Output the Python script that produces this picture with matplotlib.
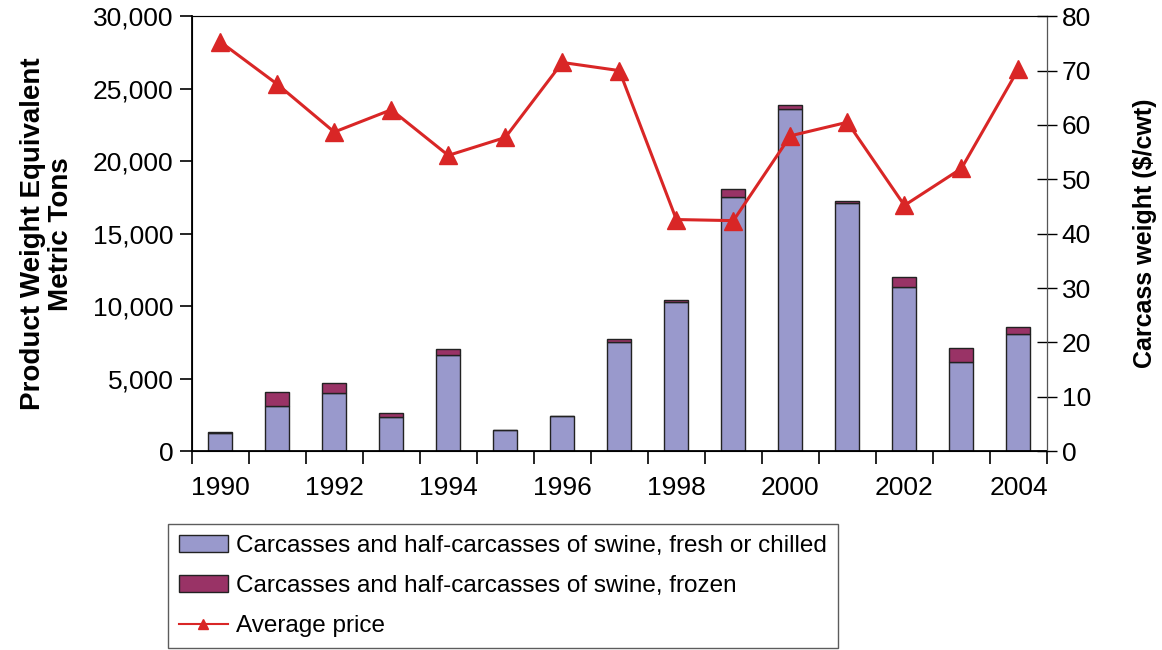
import matplotlib.pyplot as plt
import numpy as np
from matplotlib.lines import Line2D
from matplotlib.patches import Patch

plt.rcParams["font.family"] = ["Liberation Sans", "DejaVu Sans"]

# data
years = [1990, 1991, 1992, 1993, 1994, 1995, 1996, 1997, 1998, 1999,
         2000, 2001, 2002, 2003, 2004]
fresh = [1220, 3080, 4030, 2370, 6620, 1450, 2390, 7540, 10300, 17550,
         23600, 17090, 11290, 6160, 8050]
frozen = [120, 970, 650, 280, 420, 0, 0, 160, 150, 500,
          250, 140, 700, 970, 530]
price = [75.3, 67.5, 58.7, 62.8, 54.4, 57.7, 71.5, 70.0, 42.6, 42.4,
         58.0, 60.5, 45.2, 52.0, 70.3]
year_labels = ["1990", "1992", "1994", "1996", "1998", "2000", "2002", "2004"]

c_fresh = "#9999CC"
c_frozen = "#993366"
c_line = "#D92626"

fig = plt.figure(figsize=(11.62, 6.5), dpi=100)
ax = fig.add_axes([0.165, 0.306, 0.736, 0.669])
x = np.arange(len(years))

ax.bar(x, fresh, width=0.42, color=c_fresh, edgecolor="#222222", linewidth=1.0)
ax.bar(x, frozen, width=0.42, bottom=fresh, color=c_frozen,
       edgecolor="#222222", linewidth=1.0)

ax.set_xlim(-0.5, len(years) - 0.5)
ax.set_ylim(0, 30000)
ax.set_yticks(np.arange(0, 30001, 5000))
ax.set_yticklabels([f"{v:,}" for v in range(0, 30001, 5000)], fontsize=19)
ax.set_xticks(np.arange(-0.5, len(years), 1.0))
ax.set_xticklabels([])
ax.set_xticks(x[::2], minor=True)
ax.set_xticklabels(year_labels, minor=True, fontsize=19)
ax.tick_params(axis="x", which="major", direction="out", length=9, width=1.2)
ax.tick_params(axis="x", which="minor", length=0, pad=18)
ax.tick_params(axis="y", direction="out", length=9, width=1.2, pad=4)
ax.set_ylabel("Product Weight Equivalent\nMetric Tons", fontsize=20,
              fontweight="bold", labelpad=14, linespacing=1.1)
for s in ["left", "bottom"]:
    ax.spines[s].set_linewidth(1.3)
ax.spines["top"].set_color("#555555")

ax2 = ax.twinx()
ax2.plot(x, price, color=c_line, linewidth=2.2, marker="^", markersize=13)
ax2.set_ylim(0, 80)
ax2.set_yticks(np.arange(0, 81, 10))
ax2.tick_params(axis="y", direction="inout", length=14, width=1.0, labelsize=19)
ax2.set_ylabel("Carcass weight ($/cwt)", fontsize=18, fontweight="bold",
               labelpad=30)
ax2.spines["right"].set_color("#555555")

handles = [
    Patch(facecolor=c_fresh, edgecolor="#222222"),
    Patch(facecolor=c_frozen, edgecolor="#222222"),
    Line2D([], [], color=c_line, marker="^", markersize=7, linewidth=1.5),
]
labels = [
    "Carcasses and half-carcasses of swine, fresh or chilled",
    "Carcasses and half-carcasses of swine, frozen",
    "Average price",
]
leg = fig.legend(handles, labels, loc="upper left",
                 bbox_to_anchor=(0.1446, 0.194), borderaxespad=0,
                 fontsize=17.5, frameon=True, fancybox=False,
                 edgecolor="#333333", borderpad=0.45, labelspacing=0.75,
                 handlelength=2.0, handletextpad=0.35)
leg.get_frame().set_linewidth(1.0)

fig.savefig("out.png", dpi=100)
